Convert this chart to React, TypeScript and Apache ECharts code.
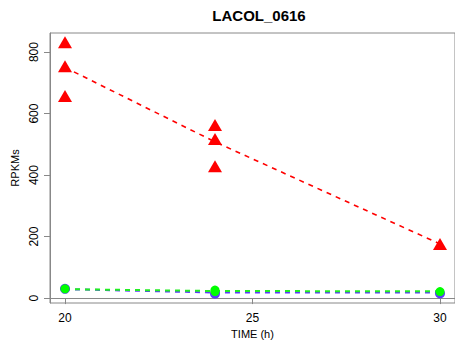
import React, { useEffect, useRef } from "react";
import * as echarts from "echarts";

const times = [20, 24, 30];
const redPointTimes = [20, 20, 20, 24, 24, 24, 30];
const redPointValues = [832, 754, 657, 563, 517, 429, 176];
const greenPointTimes = [20, 24, 24, 30];
const greenPointValues = [30, 21, 26, 21];
const bluePointTimes = [20, 24, 30];
const bluePointValues = [30, 14, 15];
const redLine = [750, 508, 176];
const greenLine = [29, 23, 22];
const blueLine = [29, 18, 18];
const xTicks = [20, 25, 30];
const yTicks = [0, 200, 400, 600, 800];

const FONT = "'Liberation Sans', Arial, Helvetica, sans-serif";

export default function App() {
  const ref = useRef<HTMLDivElement>(null);
  useEffect(() => {
    if (!ref.current) return;
    const chart = echarts.init(ref.current, undefined, { renderer: "svg" });
    const pair = (xs: number[], ys: number[]) => xs.map((x, i) => [x, ys[i]]);
    chart.setOption({
      animation: false,
      backgroundColor: "#fff",
      title: {
        text: "LACOL_0616",
        left: 254,
        top: 3,
        textAlign: "center",
        textStyle: { fontFamily: FONT, fontSize: 15, fontWeight: "bold", color: "#000" },
      },
      grid: {
        left: 50,
        top: 33,
        width: 408,
        height: 270,
        show: true,
        borderColor: "#888",
        borderWidth: 1,
        backgroundColor: "transparent",
      },
      xAxis: {
        type: "value",
        min: 19.6,
        max: 30.4,
        name: "TIME (h)",
        nameLocation: "middle",
        nameGap: 23,
        nameTextStyle: { fontFamily: FONT, fontSize: 11, color: "#000" },
        splitLine: { show: false },
        axisLine: { show: true, lineStyle: { color: "#888" } },
        axisTick: { show: true, length: 6, customValues: xTicks, lineStyle: { color: "#888" } },
        axisLabel: {
          customValues: xTicks,
          fontFamily: FONT,
          fontSize: 12,
          color: "#000",
          margin: 9,
        },
      },
      yAxis: {
        type: "value",
        min: -16,
        max: 862,
        name: "RPKMs",
        nameLocation: "middle",
        nameGap: 28,
        nameRotate: 90,
        nameTextStyle: { fontFamily: FONT, fontSize: 11, color: "#000" },
        splitLine: { show: false },
        axisLine: { show: true, lineStyle: { color: "#888" } },
        axisTick: { show: true, length: 6, customValues: yTicks, lineStyle: { color: "#888" } },
        axisLabel: {
          customValues: yTicks,
          rotate: 90,
          fontFamily: FONT,
          fontSize: 12,
          color: "#000",
          margin: 10,
        },
      },
      series: [
        {
          type: "line",
          data: pair(times, blueLine),
          symbol: "none",
          lineStyle: { color: "#5b3cf5", width: 2, type: [5, 5] },
          z: 2,
        },
        {
          type: "line",
          data: pair(times, greenLine),
          symbol: "none",
          lineStyle: { color: "#22ee22", width: 2, type: [5, 5] },
          z: 2,
        },
        {
          type: "line",
          data: pair(times, redLine),
          symbol: "none",
          lineStyle: { color: "#ff0000", width: 1.6, type: [5, 5] },
          z: 2,
        },
        {
          type: "scatter",
          data: pair(bluePointTimes, bluePointValues),
          symbol: "circle",
          symbolSize: 10,
          itemStyle: { color: "#5b3cf5", opacity: 1 },
          z: 3,
        },
        {
          type: "scatter",
          data: pair(greenPointTimes, greenPointValues),
          symbol: "circle",
          symbolSize: 9,
          itemStyle: { color: "#00ff00", opacity: 1 },
          z: 4,
        },
        {
          type: "scatter",
          data: pair(redPointTimes, redPointValues),
          symbol: "triangle",
          symbolSize: [14, 12],
          itemStyle: { color: "#ff0000", opacity: 1 },
          z: 5,
        },
      ],
    });
    return () => chart.dispose();
  }, []);
  return (
    <div
      ref={ref}
      style={{ position: "absolute", left: 0, top: 0, width: 455, height: 345 }}
    />
  );
}
